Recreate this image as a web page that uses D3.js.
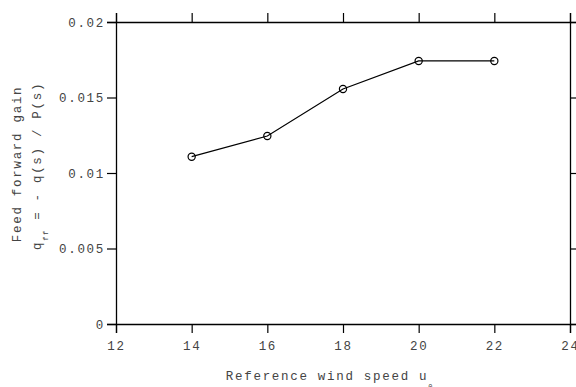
<!DOCTYPE html>
<html>
<head>
<meta charset="utf-8">
<script src="https://cdn.jsdelivr.net/npm/d3@7"></script>
<style>
  body { margin: 0; background: #fff; }
  svg { display: block; }
  text { font-family: "Liberation Mono", "DejaVu Sans Mono", monospace; fill: #444; }
</style>
</head>
<body>
<div id="chart"></div>
<script>
// wind speed vs feed forward gain
const windSpeed = [14, 16, 18, 20, 22];
const gain = [0.01108, 0.01245, 0.01556, 0.01742, 0.01742];
const xTicks = [12, 14, 16, 18, 20, 22, 24];
const yTicks = [0, 0.005, 0.01, 0.015, 0.02];
const yTickLabels = ["0", "0.005", "0.01", "0.015", "0.02"];

const W = 576, H = 387;
const margin = { top: 22, right: 6, bottom: 63, left: 116 };
const width = W - margin.left - margin.right;
const height = H - margin.top - margin.bottom;

const svg = d3.select("#chart").append("svg")
  .attr("width", W)
  .attr("height", H);

const chart = svg.append("g")
  .attr("transform", "translate(" + margin.left + "," + margin.top + ")");

const x = d3.scaleLinear().domain([12, 24]).range([0, width]);
const y = d3.scaleLinear().domain([0, 0.02]).range([height, 0]);

const fontSize = "12.5px";
const spacing = "1.7px";

// axes (all four sides, ticks outward)
const xBottom = d3.axisBottom(x).tickValues(xTicks).tickSize(9).tickPadding(8).tickFormat(d3.format("d"));
const xTop = d3.axisTop(x).tickValues(xTicks).tickSize(9).tickFormat("");
const yLeft = d3.axisLeft(y).tickValues(yTicks).tickSize(9).tickPadding(2)
  .tickFormat((d, i) => yTickLabels[i]);
const yRight = d3.axisRight(y).tickValues(yTicks).tickSize(9).tickFormat("");

function style(g) {
  g.selectAll(".domain").attr("stroke", "#000").attr("stroke-width", 1.3);
  g.selectAll(".tick line").attr("stroke", "#000").attr("stroke-width", 1.2);
  g.selectAll("text")
    .style("font-family", "'Liberation Mono', monospace")
    .style("font-size", fontSize)
    .style("letter-spacing", spacing)
    .attr("fill", "#444");
}

chart.append("g").attr("transform", "translate(0," + height + ")").call(xBottom).call(style);
chart.append("g").call(xTop).call(style);
chart.append("g").call(yLeft).call(style);
chart.append("g").attr("transform", "translate(" + width + ",0)").call(yRight).call(style);

// data line
const line = d3.line()
  .x((d, i) => x(windSpeed[i]))
  .y(d => y(d));

chart.append("path")
  .datum(gain)
  .attr("fill", "none")
  .attr("stroke", "#000")
  .attr("stroke-width", 1.2)
  .attr("d", line);

chart.selectAll("circle.pt")
  .data(gain)
  .enter().append("circle")
  .attr("class", "pt")
  .attr("cx", (d, i) => x(windSpeed[i]))
  .attr("cy", d => y(d))
  .attr("r", 3.6)
  .attr("fill", "none")
  .attr("stroke", "#000")
  .attr("stroke-width", 1.2);

// x axis title
const xt = svg.append("text")
  .attr("x", margin.left + x(18) - 13)
  .attr("y", 380)
  .attr("text-anchor", "middle")
  .style("font-size", fontSize)
  .style("letter-spacing", spacing);
xt.append("tspan").text("Reference wind speed u");
xt.append("tspan").attr("dy", 9).style("font-size", "7px").text("0");

// y axis title, two lines
const ymid = margin.top + y(0.0106);
svg.append("text")
  .attr("transform", "translate(21," + ymid + ") rotate(-90)")
  .attr("text-anchor", "middle")
  .style("font-size", fontSize)
  .style("letter-spacing", spacing)
  .text("Feed forward gain");

const yt2 = svg.append("text")
  .attr("transform", "translate(41," + (ymid + 2) + ") rotate(-90)")
  .attr("text-anchor", "middle")
  .style("font-size", fontSize)
  .style("letter-spacing", spacing);
yt2.append("tspan").text("q");
yt2.append("tspan").attr("dy", 7).style("font-size", "7px").text("ff");
yt2.append("tspan").attr("dy", -7).text(" = - q(s) / P(s)");
</script>
</body>
</html>
